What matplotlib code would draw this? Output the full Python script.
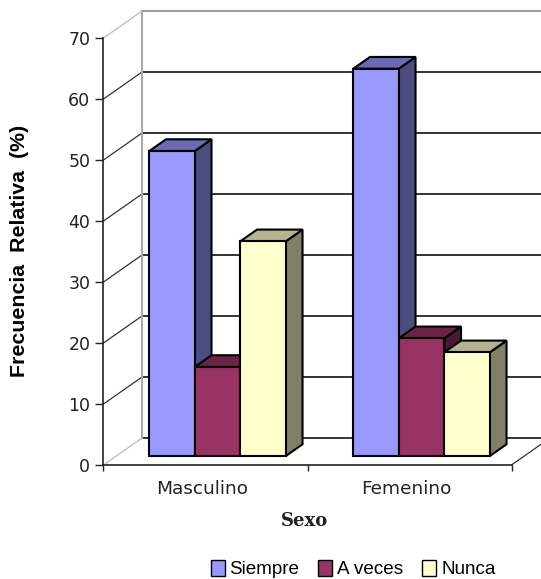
import matplotlib
matplotlib.use("Agg")
import matplotlib.pyplot as plt
from matplotlib.patches import Polygon, Rectangle

categories = ["Masculino", "Femenino"]
series_names = ["Siempre", "A veces", "Nunca"]
siempre = [50, 63.5]
a_veces = [14.6, 19.3]
nunca = [35.2, 17]
yticks = [0, 10, 20, 30, 40, 50, 60, 70]
front_colors = ["#9999FF", "#993366", "#FFFFCC"]
top_colors = ["#6B6BB3", "#6B2447", "#B3B38F"]
side_colors = ["#4C4C80", "#4C1933", "#808066"]

W, H = 541, 579
PX_CAT, PX_VAL = 204.0, 6.1
X0, Y0 = 103.5, 465.0
DX, DY = 38.5 / PX_CAT, 27.0 / PX_VAL
D1, D2 = 0.333, 0.767
GAP, BW = 33.0 / PX_CAT, 45.5 / PX_CAT

fig = plt.figure(figsize=(W / 100, H / 100), dpi=100)
ax = fig.add_axes([0, 0, 1, 1])
ax.set_xlim(-X0 / PX_CAT, (W - X0) / PX_CAT)
ax.set_ylim(-(H - Y0) / PX_VAL, Y0 / PX_VAL)
for s in ("top", "right"):
    ax.spines[s].set_visible(False)
for s in ("left", "bottom"):
    ax.spines[s].set_position(("data", 0))
    ax.spines[s].set_linewidth(1.2)
    ax.spines[s].set_color("#222222")
ax.spines["left"].set_bounds(0, 70)
ax.spines["bottom"].set_bounds(0, 2)
ax.patch.set_visible(False)


def proj(x, v, d):
    return x + d * DX, v + d * DY


# walls and gridlines
xmax_back = 2
for v in yticks:
    c = "#999999" if v == 70 else "#333333"
    xs, ys = zip(proj(0, v, 1), proj(xmax_back, v, 1))
    ax.plot(xs, ys, color=c, lw=1.4, zorder=1, solid_capstyle="butt")
    xs, ys = zip(proj(0, v, 0), proj(0, v, 1))
    dc = "#BBBBBB" if v in (0, 70) else "#333333"
    ax.plot(xs, ys, color=dc, lw=0.9, zorder=1)
xs, ys = zip(proj(0, 0, 1), proj(0, 70, 1))
ax.plot(xs, ys, color="#AAAAAA", lw=1.5, zorder=1)
xs, ys = zip(proj(2, 0, 0), proj(2, 0, 1))
ax.plot(xs, ys, color="#333333", lw=0.9, zorder=1)

# bars
all_series = [siempre, a_veces, nunca]
z = 3
for i in range(len(categories)):
    for j, values in enumerate(all_series):
        v = values[i]
        x0 = i + GAP + j * BW
        x1 = x0 + BW
        a = proj(x0, 0, D1)
        b = proj(x1, 0, D1)
        c = proj(x1, v, D1)
        e = proj(x0, v, D1)
        f = proj(x0, v, D2)
        g = proj(x1, v, D2)
        h = proj(x1, 0, D2)
        kw = dict(edgecolor="black", lw=1.5, joinstyle="miter", zorder=z)
        ax.add_patch(Polygon([b, h, g, c], facecolor=side_colors[j], **kw))
        ax.add_patch(Polygon([e, c, g, f], facecolor=top_colors[j], **kw))
        ax.add_patch(Polygon([a, b, c, e], facecolor=front_colors[j], **kw))
        z += 1

# axes ticks
ax.set_yticks(yticks)
ax.set_xticks([0, 1, 2])
ax.set_xticklabels([])
ax.set_xticks([0.483, 1.483], minor=True)
ax.set_xticklabels(categories, minor=True, family="DejaVu Sans", fontsize=13.3, color="#222222")
ax.tick_params(axis="x", which="minor", length=0, pad=11)
ax.tick_params(axis="x", which="major", length=4, width=1, color="#222222")
ax.tick_params(axis="y", length=6, width=1, color="#222222", pad=3.5)
for lab in ax.get_yticklabels():
    lab.set_family("DejaVu Sans")
    lab.set_fontsize(12.5)
    lab.set_color("#222222")
ax.yaxis.set_major_formatter(plt.FuncFormatter(lambda v, _: f"{int(v)}" if v in yticks else ""))

ax.text(20 / W, 1 - 251 / H, "Frecuencia  Relativa  (%)", transform=ax.transAxes, rotation=90,
        ha="center", va="center", family="Liberation Sans", fontweight="bold", fontsize=15.4)
ax.text(304 / W, 1 - 521 / H, "Sexo", transform=ax.transAxes, ha="center", va="center",
        family="DejaVu Serif", fontweight="bold", fontsize=13, color="#222222")

handles = [Rectangle((0, 0), 1, 1, facecolor=fc, edgecolor="black", lw=1.0) for fc in front_colors]
ax.legend(handles, series_names, ncol=3, frameon=False, loc="center",
          bbox_to_anchor=(353 / W, 1 - 569 / H), prop={"family": "Liberation Sans", "size": 13.6},
          handlelength=0.75, handleheight=0.9, handletextpad=0.25, columnspacing=1.0,
          borderpad=0, borderaxespad=0)

fig.savefig("out.png", dpi=100, facecolor="white")
